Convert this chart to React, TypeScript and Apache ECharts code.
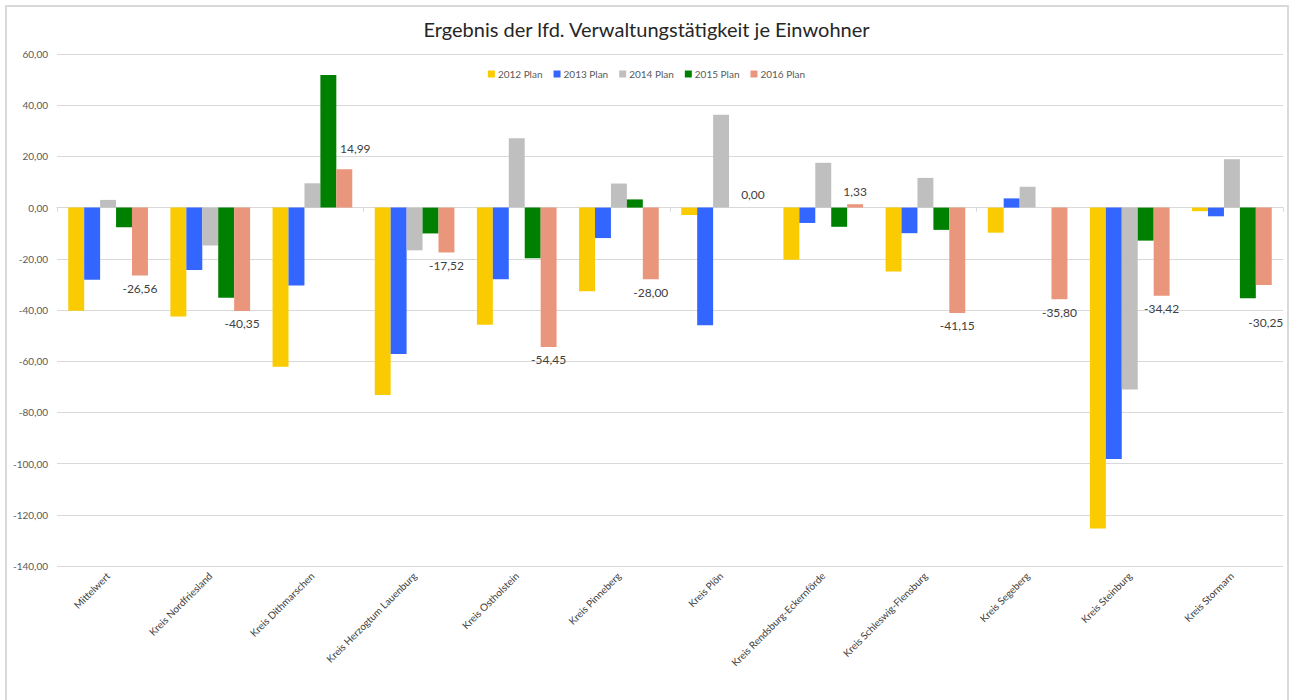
import React, { useEffect, useRef } from "react";
import * as echarts from "echarts";

const categories = [
  "Mittelwert",
  "Kreis Nordfriesland",
  "Kreis Dithmarschen",
  "Kreis Herzogtum Lauenburg",
  "Kreis Ostholstein",
  "Kreis Pinneberg",
  "Kreis Plön",
  "Kreis Rendsburg-Eckernförde",
  "Kreis Schleswig-Flensburg",
  "Kreis Segeberg",
  "Kreis Steinburg",
  "Kreis Stormarn",
];

const plan2012 = [-40.3, -42.5, -62.2, -73.2, -45.8, -32.7, -2.9, -20.4, -25.0, -9.8, -125.4, -1.4];
const plan2013 = [-28.2, -24.4, -30.4, -57.2, -28.0, -11.9, -46.0, -6.0, -10.0, 3.6, -98.2, -3.4];
const plan2014 = [3.0, -14.8, 9.5, -16.7, 27.1, 9.4, 36.3, 17.5, 11.6, 8.1, -71.1, 18.9];
const plan2015 = [-7.7, -35.2, 51.8, -10.1, -19.8, 3.2, null, -7.5, -8.7, null, -12.9, -35.4];
const plan2016 = [-26.56, -40.35, 14.99, -17.52, -54.45, -28.0, 0.0, 1.33, -41.15, -35.8, -34.42, -30.25];

const seriesNames = ["2012 Plan", "2013 Plan", "2014 Plan", "2015 Plan", "2016 Plan"];
const seriesColors = ["#F9CB00", "#3366FF", "#BFBFBF", "#008000", "#E9967C"];

const yMin = -140;
const yMax = 60;
const yInterval = 20;

const fmt = (v: number) => v.toFixed(2).replace(".", ",");

const labelOffset = (name: string) => {
  if (name === "Kreis Dithmarschen") return [11, -8];
  if (name === "Kreis Stormarn") return [2, 24];
  return [0, 0];
};

export default function App() {
  const ref = useRef<HTMLDivElement>(null);
  useEffect(() => {
    if (!ref.current) return;
    const chart = echarts.init(ref.current, null, { renderer: "svg" });
    const font = "Lato, 'Open Sans', sans-serif";
    const dataSets = [plan2012, plan2013, plan2014, plan2015, plan2016];
    const series: any[] = dataSets.map((d, i) => ({
      name: seriesNames[i],
      type: "bar",
      xAxisIndex: 0,
      barGap: "0%",
      barCategoryGap: "22%",
      itemStyle: { color: seriesColors[i] },
      z: i === 4 ? 3 : 2,
      data:
        i === 4
          ? d.map((v, k) => ({
              value: v,
              label: {
                show: true,
                position: (v as number) < 0 ? "bottom" : "top",
                formatter: (p: any) => fmt(p.value),
                color: "#404040",
                fontSize: 12,
                fontFamily: font,
                distance: 7,
                offset: labelOffset(categories[k]),
              },
            }))
          : d,
    }));
    chart.setOption({
      animation: false,
      backgroundColor: "#ffffff",
      title: {
        text: "Ergebnis der lfd. Verwaltungstätigkeit je Einwohner",
        left: "center",
        top: 14,
        textStyle: { fontFamily: font, fontSize: 20, fontWeight: "normal", color: "#262626" },
      },
      legend: {
        top: 64,
        left: "center",
        itemWidth: 7,
        itemHeight: 7,
        itemGap: 11,
        icon: "rect",
        textStyle: { fontFamily: font, fontSize: 10, color: "#595959", padding: [0, 0, 0, -2] },
        data: seriesNames,
      },
      graphic: [
        {
          type: "rect",
          shape: { x: 6, y: 6, width: 1282, height: 700 },
          style: { fill: "none", stroke: "#d9d9d9", lineWidth: 2 },
          silent: true,
        },
      ],
      grid: { left: 57, right: 10, top: 54, bottom: 134, containLabel: false },
      xAxis: [
        {
          type: "category",
          data: categories,
          axisLine: { onZero: true, lineStyle: { color: "#d9d9d9" } },
          axisTick: { show: true, length: 4, lineStyle: { color: "#d9d9d9" } },
          axisLabel: { show: false },
        },
        {
          type: "category",
          data: categories,
          position: "bottom",
          axisLine: { show: false, onZero: false },
          axisTick: { show: false },
          axisLabel: {
            show: true,
            rotate: 45,
            interval: 0,
            margin: 8,
            fontFamily: font,
            fontSize: 10,
            color: "#404040",
          },
        },
      ],
      yAxis: {
        type: "value",
        min: yMin,
        max: yMax,
        interval: yInterval,
        axisLine: { show: false },
        axisTick: { show: false },
        splitLine: { lineStyle: { color: "#d9d9d9" } },
        axisLabel: {
          formatter: (v: number) => fmt(v),
          fontFamily: font,
          fontSize: 10,
          color: "#595959",
          margin: 9,
        },
      },
      series,
    });
    return () => chart.dispose();
  }, []);
  return (
    <div
      ref={ref}
      style={{ position: "fixed", left: 0, top: 0, width: 1293, height: 700 }}
    />
  );
}
